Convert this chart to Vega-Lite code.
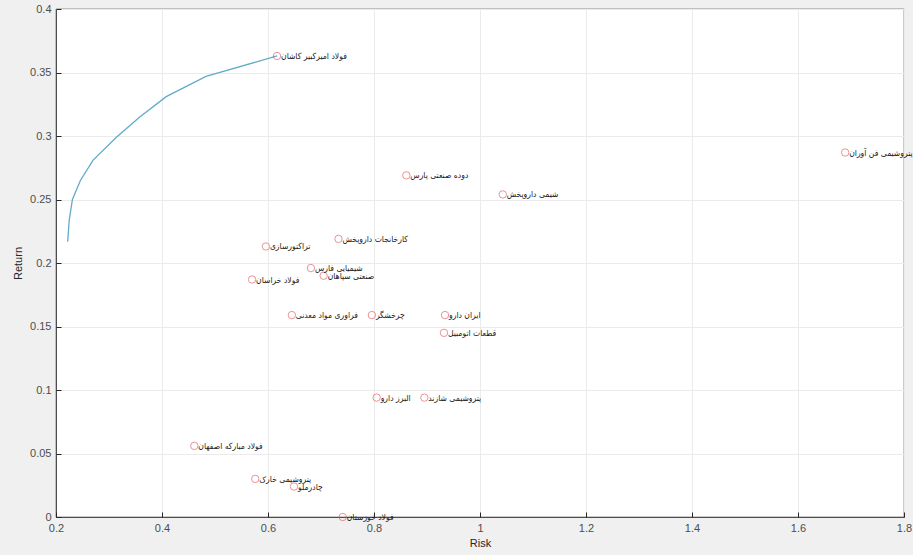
{
  "$schema": "https://vega.github.io/schema/vega-lite/v6.json",
  "width": 848,
  "height": 508,
  "autosize": {"type": "none"},
  "padding": {"left": 56, "top": 9, "right": 9, "bottom": 38},
  "background": "#f0f0f0",
  "view": {"fill": "#ffffff", "stroke": "#262626", "strokeWidth": 0.6},
  "datasets": {
    "frontier": [
      {"risk": 0.222, "ret": 0.2168},
      {"risk": 0.225, "ret": 0.234},
      {"risk": 0.231, "ret": 0.25},
      {"risk": 0.246, "ret": 0.265},
      {"risk": 0.27, "ret": 0.281},
      {"risk": 0.314, "ret": 0.299},
      {"risk": 0.358, "ret": 0.315},
      {"risk": 0.408, "ret": 0.331},
      {"risk": 0.483, "ret": 0.347},
      {"risk": 0.617, "ret": 0.363}
    ],
    "stocks": [
      {"name": "فولاد امیرکبیر کاشان", "risk": 0.617, "ret": 0.363},
      {"name": "پتروشیمی فن آوران", "risk": 1.689, "ret": 0.287},
      {"name": "دوده صنعتی پارس", "risk": 0.861, "ret": 0.269},
      {"name": "شیمی داروپخش", "risk": 1.043, "ret": 0.254},
      {"name": "کارخانجات داروپخش", "risk": 0.733, "ret": 0.219},
      {"name": "تراکتورسازی", "risk": 0.596, "ret": 0.213},
      {"name": "شیمیایی فارس", "risk": 0.681, "ret": 0.196},
      {"name": "صنعتی سپاهان", "risk": 0.705, "ret": 0.19},
      {"name": "فولاد خراسان", "risk": 0.57, "ret": 0.187},
      {"name": "فراوری مواد معدنی", "risk": 0.645, "ret": 0.159},
      {"name": "چرخشگر", "risk": 0.796, "ret": 0.159},
      {"name": "ایران دارو", "risk": 0.934, "ret": 0.159},
      {"name": "قطعات اتومبیل", "risk": 0.932, "ret": 0.145},
      {"name": "البرز دارو", "risk": 0.805, "ret": 0.094},
      {"name": "پتروشیمی شازند", "risk": 0.895, "ret": 0.094},
      {"name": "فولاد مبارکه اصفهان", "risk": 0.461, "ret": 0.056},
      {"name": "پتروشیمی خارک", "risk": 0.576, "ret": 0.03},
      {"name": "چادرملو", "risk": 0.649, "ret": 0.024},
      {"name": "فولاد خوزستان", "risk": 0.741, "ret": 0.0}
    ]
  },
  "config": {
    "axis": {
      "labelFont": "Liberation Sans",
      "titleFont": "Liberation Sans",
      "labelFontSize": 11,
      "titleFontSize": 11,
      "labelColor": "#4d4d4d",
      "titleColor": "#262626",
      "titleFontWeight": "normal",
      "gridColor": "#ebebeb",
      "gridWidth": 1,
      "domainColor": "#262626",
      "domainWidth": 0.8,
      "tickColor": "#262626",
      "tickSize": -5,
      "labelPadding": 10,
      "labelFlush": false,
      "labelOverlap": false
    }
  },
  "layer": [
    {
      "data": {"name": "frontier"},
      "mark": {"type": "line", "color": "#62abc9", "strokeWidth": 1.3, "clip": true},
      "encoding": {
        "x": {
          "field": "risk", "type": "quantitative",
          "scale": {"domain": [0.2, 1.8], "nice": false, "zero": false},
          "axis": {"title": "Risk", "values": [0.2, 0.4, 0.6, 0.8, 1, 1.2, 1.4, 1.6, 1.8], "format": ".1~f", "titlePadding": 4}
        },
        "y": {
          "field": "ret", "type": "quantitative",
          "scale": {"domain": [0, 0.4], "nice": false, "zero": false},
          "axis": {"title": "Return", "values": [0, 0.05, 0.1, 0.15, 0.2, 0.25, 0.3, 0.35, 0.4], "format": ".2~f", "titlePadding": 6}
        },
        "order": {"field": "risk"}
      }
    },
    {
      "data": {"name": "stocks"},
      "mark": {"type": "point", "shape": "circle", "filled": false, "color": "#e0555a", "size": 55, "strokeWidth": 0.9},
      "encoding": {
        "x": {"field": "risk", "type": "quantitative"},
        "y": {"field": "ret", "type": "quantitative"}
      }
    },
    {
      "data": {"name": "stocks"},
      "mark": {"type": "text", "align": "left", "baseline": "middle", "dx": 4, "font": "DejaVu Sans Condensed, DejaVu Sans", "fontSize": 8.5, "color": "#1a1a1a"},
      "encoding": {
        "x": {"field": "risk", "type": "quantitative"},
        "y": {"field": "ret", "type": "quantitative"},
        "text": {"field": "name"}
      }
    }
  ]
}
